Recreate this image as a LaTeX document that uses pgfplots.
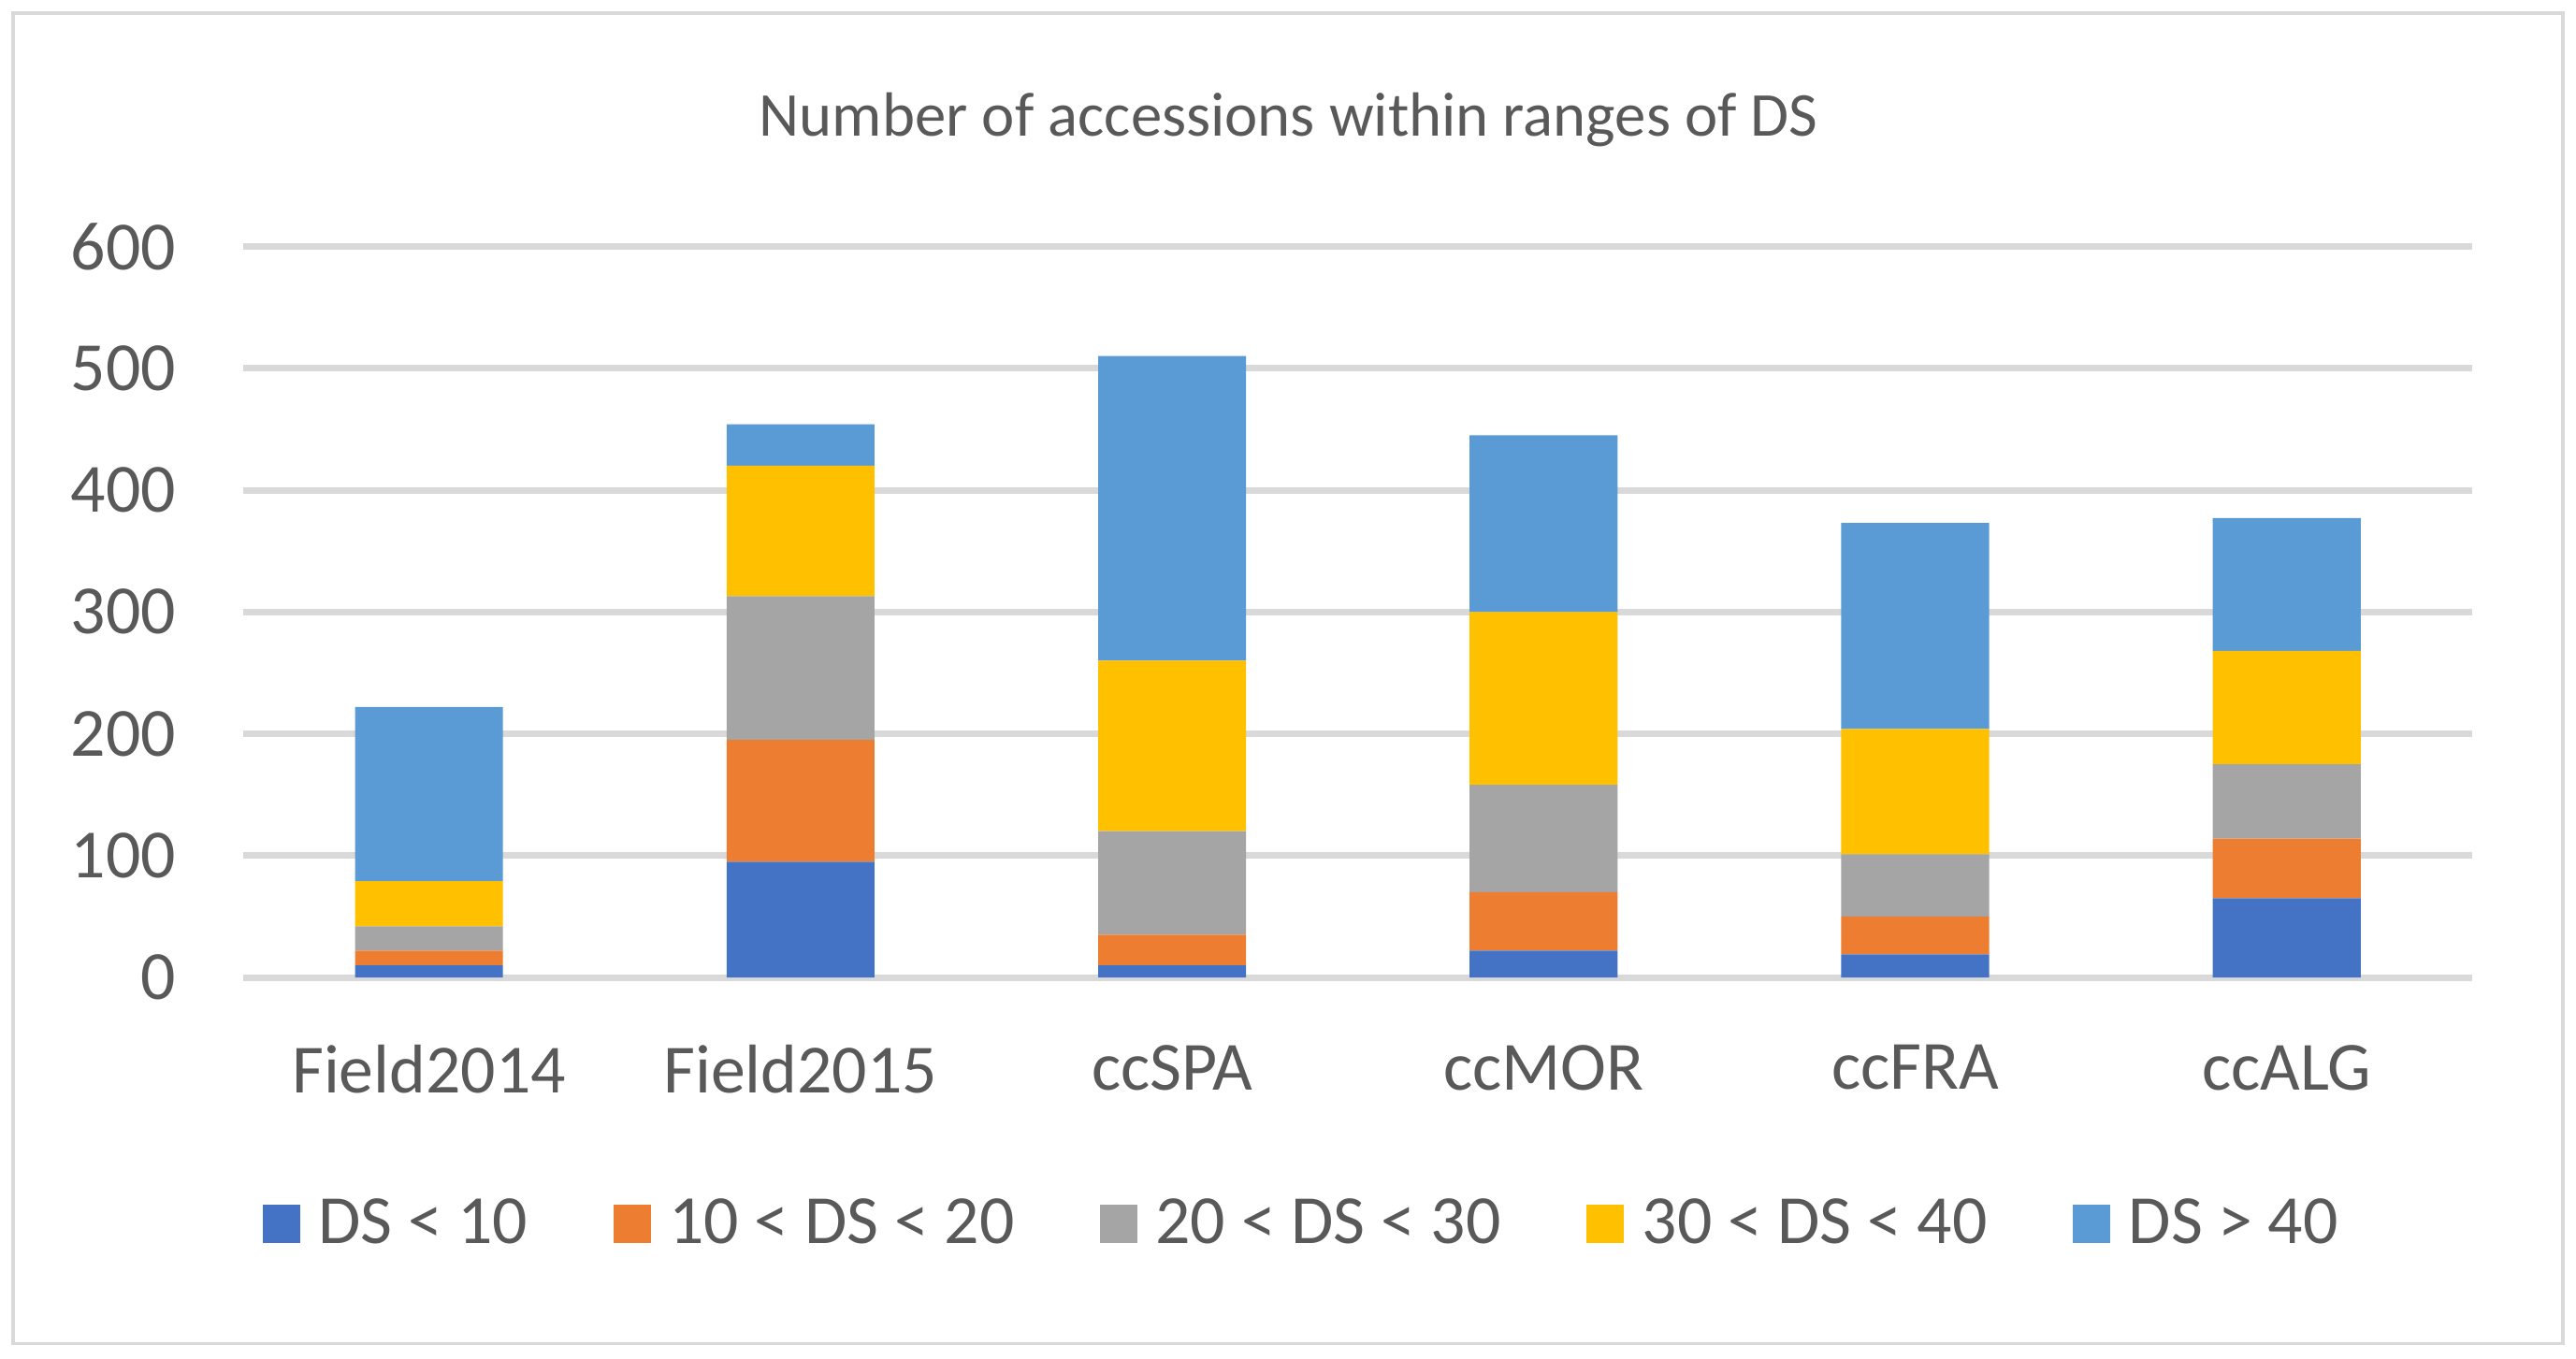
\documentclass[border=0pt]{standalone}
\usepackage{pgfplots}
\pgfplotsset{compat=1.18}
\usepackage{fontspec}
\setmainfont{Carlito}

\definecolor{sA}{HTML}{4472C4}
\definecolor{sB}{HTML}{ED7D31}
\definecolor{sC}{HTML}{A5A5A5}
\definecolor{sD}{HTML}{FFC000}
\definecolor{sE}{HTML}{5B9BD5}
\definecolor{txt}{HTML}{595959}
\definecolor{grid}{HTML}{D9D9D9}

\begin{document}
\begin{tikzpicture}
\useasboundingbox (0,0) rectangle (784pt,413.5pt);
\draw[grid, line width=1pt] (4pt,4.5pt) rectangle (780pt,409.5pt);
\begin{axis}[
  at={(74pt,116pt)}, anchor=south west,
  scale only axis,
  width=678.5pt, height=222.5pt,
  ybar stacked,
  bar width=45pt,
  xmin=-0.5, xmax=5.5,
  ymin=0, ymax=600,
  ytick={0,100,...,600},
  xtick=data,
  xticklabels={Field2014,Field2015,ccSPA,ccMOR,ccFRA,ccALG},
  axis line style={draw=none},
  major tick length=0pt,
  xtick style={draw=none}, ytick style={draw=none},
  xmajorgrids=false,
  ymajorgrids=true,
  y grid style={grid, line width=2pt},
  /pgf/number format/assume math mode=true,
  ticklabel style={font=\fontsize{21}{24}\selectfont, text=txt},
  yticklabel style={xshift=-17pt},
  xticklabel style={yshift=-17pt},
  title={Number of accessions within ranges of DS},
  title style={at={(0.469,1.146)}, anchor=center, font=\fontsize{19}{22}\selectfont, text=txt},
  legend columns=5,
  legend style={at={(0.4757,-0.337)}, anchor=center, draw=none,
    font=\fontsize{21}{24}\selectfont, text=txt,
    /tikz/every even column/.append style={column sep=24pt}},
  legend image code/.code={\fill[#1] (0pt,-5.75pt) rectangle (11.5pt,5.75pt); \path (15pt,0pt);},
  every axis plot/.append style={draw=none},
]
\addplot[fill=sA] coordinates {(0,10) (1,95) (2,10) (3,22) (4,19) (5,65)};
\addplot[fill=sB] coordinates {(0,12) (1,100) (2,25) (3,48) (4,31) (5,49)};
\addplot[fill=sC] coordinates {(0,20) (1,118) (2,85) (3,88) (4,51) (5,61)};
\addplot[fill=sD] coordinates {(0,37) (1,107) (2,140) (3,142) (4,103) (5,93)};
\addplot[fill=sE] coordinates {(0,143) (1,34) (2,250) (3,145) (4,169) (5,109)};
\legend{DS < 10, 10 < DS < 20, 20 < DS < 30, 30 < DS < 40, DS > 40}
\end{axis}
\end{tikzpicture}
\end{document}
